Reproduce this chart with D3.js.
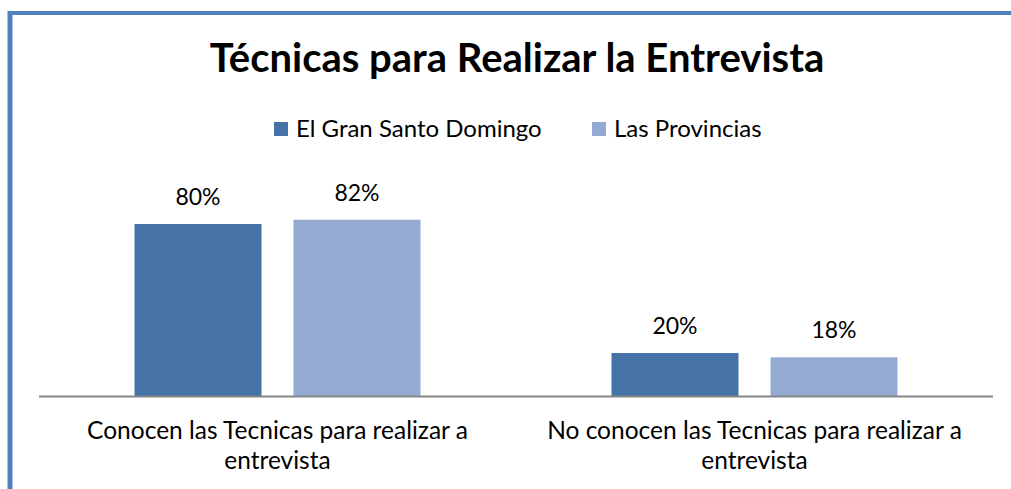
<!DOCTYPE html>
<html>
<head>
<meta charset="utf-8">
<script src="https://cdn.jsdelivr.net/npm/d3@7"></script>
<style>
  body { margin: 0; background: #fff; overflow: hidden; }
  svg { display: block; font-family: Lato, "Open Sans", sans-serif; }
</style>
</head>
<body>
<div id="chart"></div>
<script>
// data
const categories = [
    ["Conocen las Tecnicas para realizar a", "entrevista"],
    ["No conocen las Tecnicas para realizar a", "entrevista"]
];
const seriesNames = ["El Gran Santo Domingo", "Las Provincias"];
const granSantoDomingo = [80, 20];
const provincias = [82, 18];
const seriesColors = ["#4572A7", "#95AAD2"];

const width = 1011, height = 489;
const margin = { left: 39, right: 18, top: 181, bottom: 93 };

const svg = d3.select("#chart").append("svg")
    .attr("width", width)
    .attr("height", height);

// frame (only top and left edges are in view)
svg.append("line")
    .attr("x1", 10).attr("x2", width)
    .attr("y1", 13).attr("y2", 13)
    .attr("stroke", "#4F81BD")
    .attr("stroke-width", 4);
svg.append("line")
    .attr("x1", 10).attr("x2", 10)
    .attr("y1", 11).attr("y2", height)
    .attr("stroke", "#4F81BD")
    .attr("stroke-width", 5);

svg.append("text")
    .attr("x", 517).attr("y", 72)
    .attr("text-anchor", "middle")
    .attr("font-size", "40px")
    .attr("font-weight", "bold")
    .attr("fill", "#000")
    .text("Técnicas para Realizar la Entrevista");

const x0 = d3.scaleBand()
    .domain(d3.range(categories.length))
    .range([margin.left, width - margin.right])
    .paddingInner(0)
    .paddingOuter(0);

const x1 = d3.scaleBand()
    .domain(d3.range(seriesNames.length))
    .range([95.5, x0.bandwidth() - 95.5])
    .paddingInner(32 / 159);

const y = d3.scaleLinear()
    .domain([0, 100])
    .range([height - margin.bottom, margin.top]);

const rows = categories.map((c, i) => ({
    i: i,
    values: [granSantoDomingo[i], provincias[i]]
}));

const group = svg.append("g").selectAll("g")
    .data(rows)
    .enter().append("g")
    .attr("transform", d => `translate(${x0(d.i)},0)`);

group.selectAll("rect")
    .data(d => d.values.map((v, s) => ({ v, s })))
    .enter().append("rect")
    .attr("x", d => x1(d.s))
    .attr("width", x1.bandwidth())
    .attr("y", d => y(d.v))
    .attr("height", d => y(0) - y(d.v))
    .attr("fill", d => seriesColors[d.s]);

group.selectAll("text.val")
    .data(d => d.values.map((v, s) => ({ v, s })))
    .enter().append("text")
    .attr("class", "val")
    .attr("x", d => x1(d.s) + x1.bandwidth() / 2)
    .attr("y", d => y(d.v) - 19)
    .attr("text-anchor", "middle")
    .attr("font-size", "23px")
    .attr("fill", "#000")
    .text(d => d.v + "%");

// axis line
svg.append("line")
    .attr("x1", margin.left).attr("x2", width - margin.right)
    .attr("y1", y(0) + 0.5).attr("y2", y(0) + 0.5)
    .attr("stroke", "#868686")
    .attr("stroke-width", 2);

// category labels
const catLabel = svg.append("g").selectAll("text")
    .data(categories)
    .enter().append("text")
    .attr("x", (d, i) => x0(i) + x0.bandwidth() / 2)
    .attr("y", 439)
    .attr("text-anchor", "middle")
    .attr("font-size", "24.5px")
    .attr("fill", "#000");

catLabel.selectAll("tspan")
    .data(d => d)
    .enter().append("tspan")
    .attr("x", function() { return this.parentNode.getAttribute("x"); })
    .attr("dy", (d, i) => i === 0 ? 0 : 30)
    .text(d => d);

// legend
const legendX = [274, 592];
const legend = svg.append("g").selectAll("g")
    .data(seriesNames)
    .enter().append("g")
    .attr("transform", (d, i) => `translate(${legendX[i]},122)`);

legend.append("rect")
    .attr("width", 14).attr("height", 14)
    .attr("fill", (d, i) => seriesColors[i]);

legend.append("text")
    .attr("x", 22).attr("y", 15)
    .attr("font-size", "24px")
    .attr("fill", "#000")
    .text(d => d);
</script>
</body>
</html>
